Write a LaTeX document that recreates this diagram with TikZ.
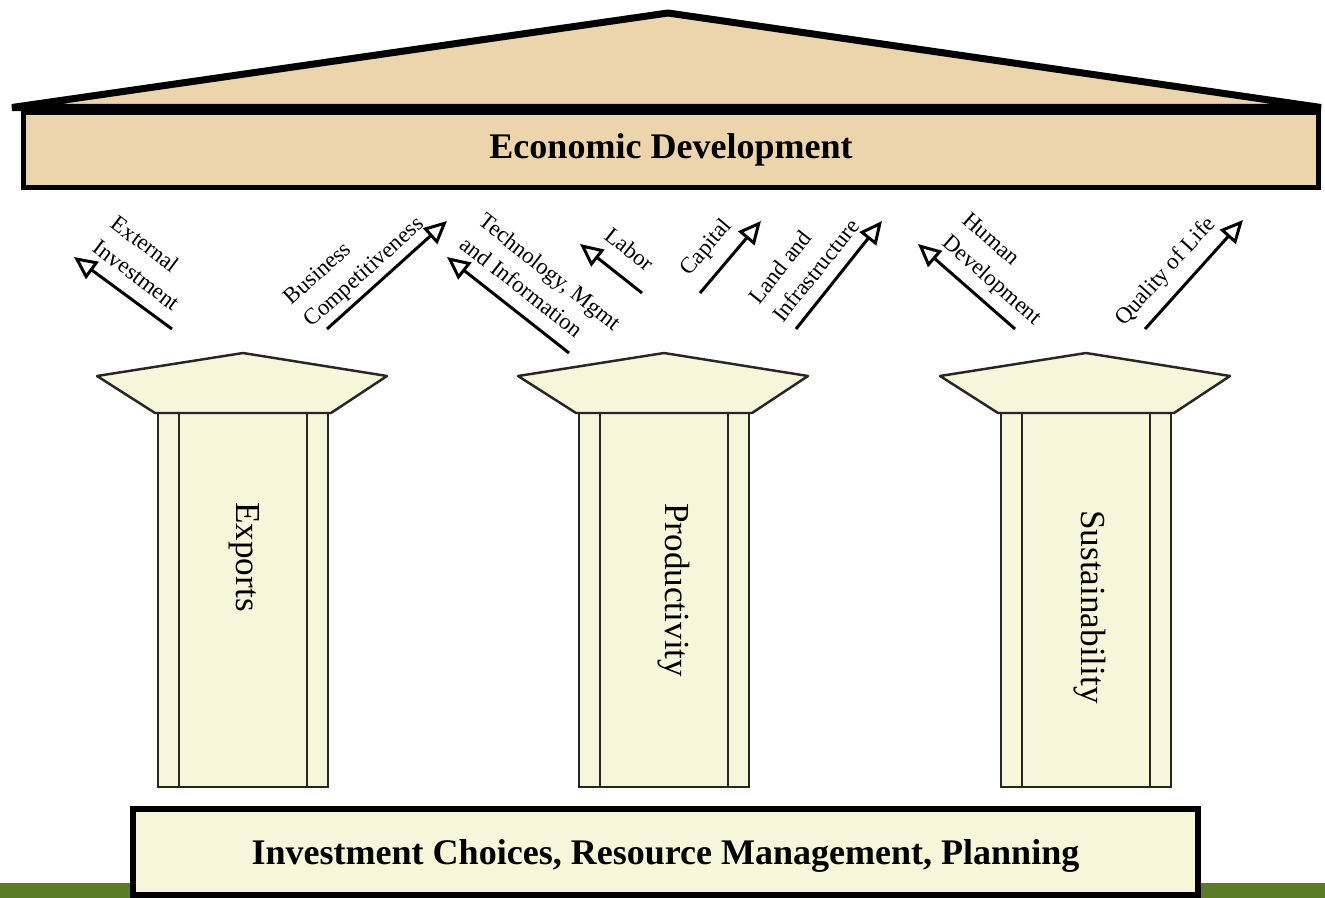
\documentclass[tikz,border=0pt]{standalone}
\usepackage{fontspec}
\setmainfont{Liberation Serif}
\definecolor{econ_tan}{RGB}{236, 213, 172}
\definecolor{econ_cream}{RGB}{246, 246, 218}
\definecolor{econ_green}{RGB}{91, 123, 36}
\usetikzlibrary{arrows.meta}

\begin{document}
\begin{tikzpicture}[x=0.02cm, y=-0.02cm,
        roof/.style={draw=black, fill=econ_tan, line width=4pt, line join=bevel},
        beam/.style={rectangle, draw=black, fill=econ_tan, line width=3pt,
                     minimum width=25.91cm, minimum height=1.51cm,
                     font=\fontsize{20.5}{24}\selectfont\bfseries},
        plinth/.style={rectangle, draw=black, fill=econ_cream, line width=3.4pt,
                     minimum width=21.3cm, minimum height=1.72cm, text depth=0pt,
                     font=\fontsize{20.5}{24}\selectfont\bfseries},
        pcap/.style={draw=black!85, fill=econ_cream, line width=1.4pt, line join=round},
        shaft/.style={draw=black!85, fill=econ_cream, line width=1.1pt},
        pil/.style={rotate=-90, anchor=west, inner sep=0pt, font=\fontsize{20}{24}\selectfont},
        arr/.style={-{Triangle[open, length=13pt, width=12pt]}, line width=1.7pt},
        lbl/.style={align=left, inner sep=0pt, font=\fontsize{13}{17}\selectfont},
      ]
        \useasboundingbox (0,0) rectangle (1325,898);
        \fill[econ_green] (0,883) rectangle (1325,898);

        % roof and beam
        \draw[roof] (12,107.5) -- (668,13) -- (1321,107.5) -- cycle;
        \node[beam] (econ) at (671,150) {Economic Development};

        % pillars
        \draw[shaft] (158,413) rectangle (328,787) (179,413) -- (179,787) (307,413) -- (307,787);
        \draw[pcap] (243,353) -- (387,376) -- (331,413) -- (155,413) -- (97,376) -- cycle;
        \node[pil] (exports) at (244,502) {Exports};

        \draw[shaft] (579,413) rectangle (749,787) (600,413) -- (600,787) (728,413) -- (728,787);
        \draw[pcap] (664,353) -- (808,376) -- (752,413) -- (576,413) -- (518,376) -- cycle;
        \node[pil] (product) at (674,503) {Productivity};

        \draw[shaft] (1001,413) rectangle (1171,787) (1022,413) -- (1022,787) (1150,413) -- (1150,787);
        \draw[pcap] (1086,353) -- (1230,376) -- (1174,413) -- (998,413) -- (940,376) -- cycle;
        \node[pil] (sustain) at (1090,510) {Sustainability};

        \node[plinth] (invest) at (665.5,852) {Investment Choices, Resource Management, Planning};

        % inputs
        \coordinate (ext_a) at (172,329);  \coordinate (ext_b) at (74,257);
        \coordinate (bus_a) at (327,329);  \coordinate (bus_b) at (447,221);
        \coordinate (tech_a) at (569,353); \coordinate (tech_b) at (447,257);
        \coordinate (lab_a) at (642,293);  \coordinate (lab_b) at (580,244);
        \coordinate (cap_a) at (700,293);  \coordinate (cap_b) at (761,221);
        \coordinate (land_a) at (796,329); \coordinate (land_b) at (882,221);
        \coordinate (hum_a) at (1015,329); \coordinate (hum_b) at (918,244);
        \coordinate (qol_a) at (1145,329); \coordinate (qol_b) at (1243,220);

        \draw[arr] (ext_a) -- (ext_b);
        \draw[arr] (bus_a) -- (bus_b);
        \draw[arr] (tech_a) -- (tech_b);
        \draw[arr] (lab_a) -- (lab_b);
        \draw[arr] (cap_a) -- (cap_b);
        \draw[arr] (land_a) -- (land_b);
        \draw[arr] (hum_a) -- (hum_b);
        \draw[arr] (qol_a) -- (qol_b);

        \node[lbl, rotate=-37]   (ext_lbl)  at (146,263)  {External\\Investment};
        \node[lbl, rotate=42]    (bus_lbl)  at (355,262)  {Business\\Competitiveness};
        \node[lbl, rotate=-38.2] (tech_lbl) at (541,283)  {Technology, Mgmt\\and Information};
        \node[lbl, rotate=-38.3] (lab_lbl)  at (630,249)  {Labor};
        \node[lbl, rotate=49.7]  (cap_lbl)  at (707,248)  {Capital};
        \node[lbl, rotate=51.5]  (land_lbl) at (804,261)  {Land and\\Infrastructure};
        \node[lbl, rotate=-41.2] (hum_lbl)  at (1001,270) {Human\\Development};
        \node[lbl, rotate=48]    (qol_lbl)  at (1166,272) {Quality of Life};
      \end{tikzpicture}
\end{document}
